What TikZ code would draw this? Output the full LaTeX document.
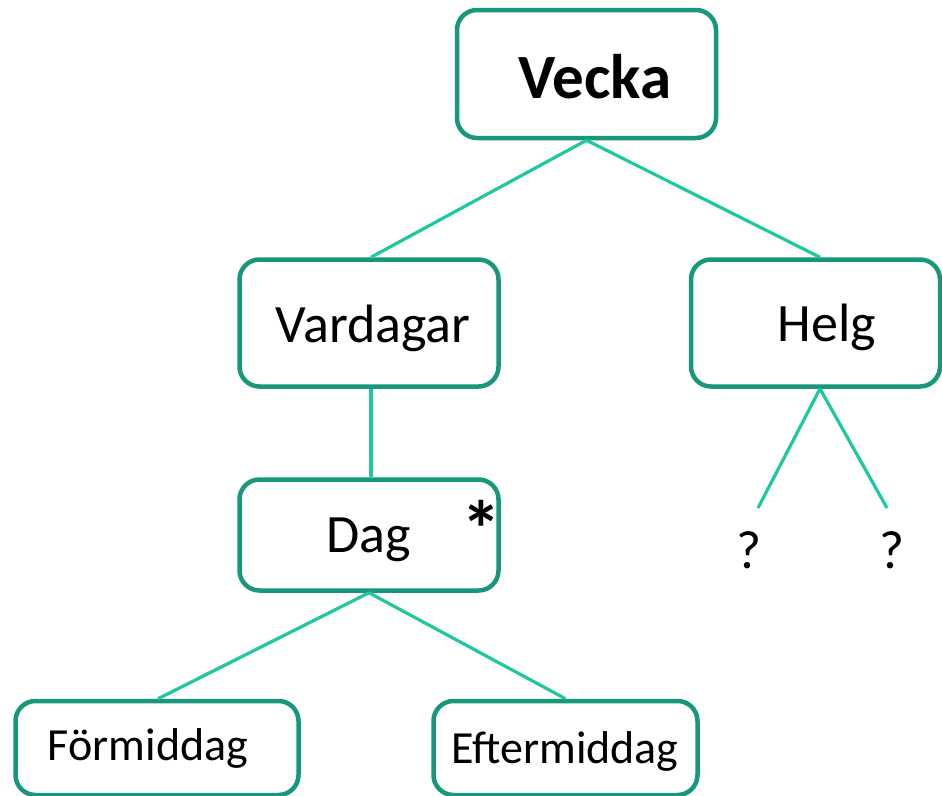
\documentclass[tikz,border=0pt]{standalone}
\usepackage{fontspec}
\setmainfont{Carlito}
\usetikzlibrary{calc}
\definecolor{boxline}{HTML}{17987C}
\definecolor{link}{HTML}{1FC8A0}
\tikzset{
  box/.style 2 args={draw=boxline, line width=4.5pt, rounded corners=20pt, fill=white,
    rectangle, inner sep=0pt, minimum width=#1, minimum height=#2},
  link/.style={draw=link, line width=3.2pt},
  lbl/.style={inner sep=0pt, anchor=base, text=black},
  big/.style={font=\fontsize{54}{60}\selectfont},
  small/.style={font=\fontsize{46}{52}\selectfont},
  title/.style={font=\fontsize{63}{70}\selectfont\bfseries},
}
\begin{document}
\begin{tikzpicture}[x=1pt, y=-1pt]
  \clip (0,0) rectangle (942,795);
  \fill[white] (0,0) rectangle (942,795);

  % boxes
  \node[box={259pt}{128pt}] (vecka) at (586.5,74) {};
  \node[box={259pt}{127pt}] (vardagar) at (369,323) {};
  \node[box={249pt}{127pt}] (helg) at (815.5,323) {};
  \node[box={259pt}{111pt}] (dag) at (369,535) {};
  \node[box={283pt}{94pt}] (form) at (157,748) {};
  \node[box={264pt}{94pt}] (efter) at (565.5,748) {};

  % free ends under Helg
  \coordinate (q1) at (758,508);
  \coordinate (q2) at (887,508);

  % connectors
  \draw[link] (vecka.south) -- ([xshift=2pt]vardagar.north);
  \draw[link] (vecka.south) -- ([xshift=4.5pt]helg.north);
  \draw[link] ([xshift=2pt]vardagar.south) -- ([xshift=2pt]dag.north);
  \draw[link] (dag.south) -- ([xshift=1pt]form.north);
  \draw[link] (dag.south) -- (efter.north);
  \draw[link] ([xshift=4.5pt]helg.south) -- (q1);
  \draw[link] ([xshift=4.5pt]helg.south) -- (q2);

  % labels
  \node[lbl, title] (tVecka) at (595,98) {Vecka};
  \node[lbl, big] (tVardagar) at (373,342) {Vardagar};
  \node[lbl, big] (tHelg) at (827,341) {Helg};
  \node[lbl, big] (tDag) at (369,552) {Dag};
  \node[inner sep=0pt, font=\fontsize{80}{88}\selectfont\bfseries] (star) at (481,529) {*};
  \node[lbl, small] (tForm) at (148,760) {Förmiddag};
  \node[lbl, small] (tEfter) at (565,763) {Eftermiddag};
  \node[lbl, big] (qa) at (749,568) {?};
  \node[lbl, big] (qb) at (892,568) {?};
\end{tikzpicture}
\end{document}
